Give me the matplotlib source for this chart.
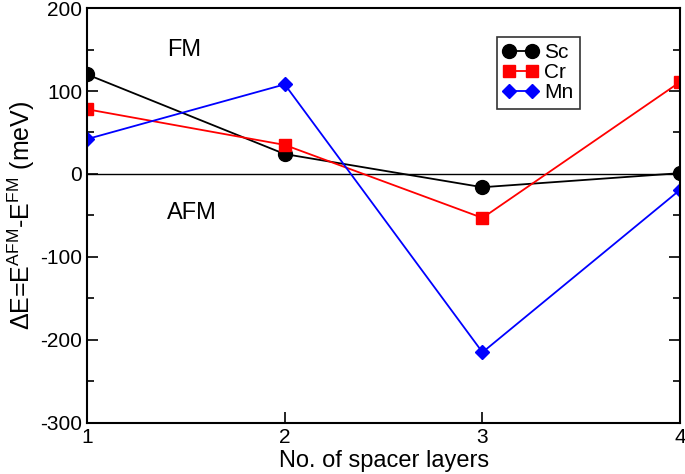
import numpy as np
import matplotlib.pyplot as plt
from matplotlib.ticker import MultipleLocator

plt.rcParams['font.family'] = ['Liberation Sans', 'DejaVu Sans']
plt.rcParams['mathtext.fontset'] = 'custom'
plt.rcParams['mathtext.rm'] = 'Liberation Sans'
plt.rcParams['mathtext.it'] = 'Liberation Sans'
plt.rcParams['axes.unicode_minus'] = False

layers = [1, 2, 3, 4]
sc = [120, 24, -16, 1]
cr = [78, 35, -53, 111]
mn = [42, 108, -215, -19]

fig = plt.figure(figsize=(6.85, 4.74), dpi=100)
ax = fig.add_axes([0.127, 0.108, 0.866, 0.875])

ax.axhline(0, color='black', lw=1)
ax.plot(layers, sc, color='black', marker='o', ms=10, lw=1.3, label='Sc')
ax.plot(layers, cr, color='red', marker='s', ms=9, lw=1.3, label='Cr')
ax.plot(layers, mn, color='blue', marker='D', ms=7, lw=1.3, label='Mn')

ax.set_xlim(1, 4)
ax.set_ylim(-300, 200)
ax.set_xticks(layers)
ax.yaxis.set_major_locator(MultipleLocator(100))
ax.yaxis.set_minor_locator(MultipleLocator(50))
ax.tick_params(axis='both', which='both', direction='in', labelsize=15, width=1.2)
ax.tick_params(axis='y', which='both', right=True)
ax.tick_params(which='major', length=8)
ax.tick_params(which='minor', length=5)
ax.tick_params(axis='x', pad=4)
for s in ax.spines.values():
    s.set_linewidth(1.5)

ax.set_xlabel('No. of spacer layers', fontsize=17, labelpad=2)
ax.set_ylabel(r'$\Delta$E=E$^{\mathrm{AFM}}$-E$^{\mathrm{FM}}$ (meV)', fontsize=18, labelpad=2)

ax.text(1.49, 150, 'FM', fontsize=17, ha='center', va='center')
ax.text(1.53, -47, 'AFM', fontsize=17, ha='center', va='center')

leg = ax.legend(loc='upper right', bbox_to_anchor=(0.831, 0.93), fontsize=15,
                frameon=True, fancybox=False, edgecolor='black', numpoints=2,
                handlelength=1.7, borderpad=0.3, labelspacing=0.05,
                handletextpad=0.3, borderaxespad=0)
leg.get_frame().set_linewidth(1.2)

fig.savefig('out.png', dpi=100)
